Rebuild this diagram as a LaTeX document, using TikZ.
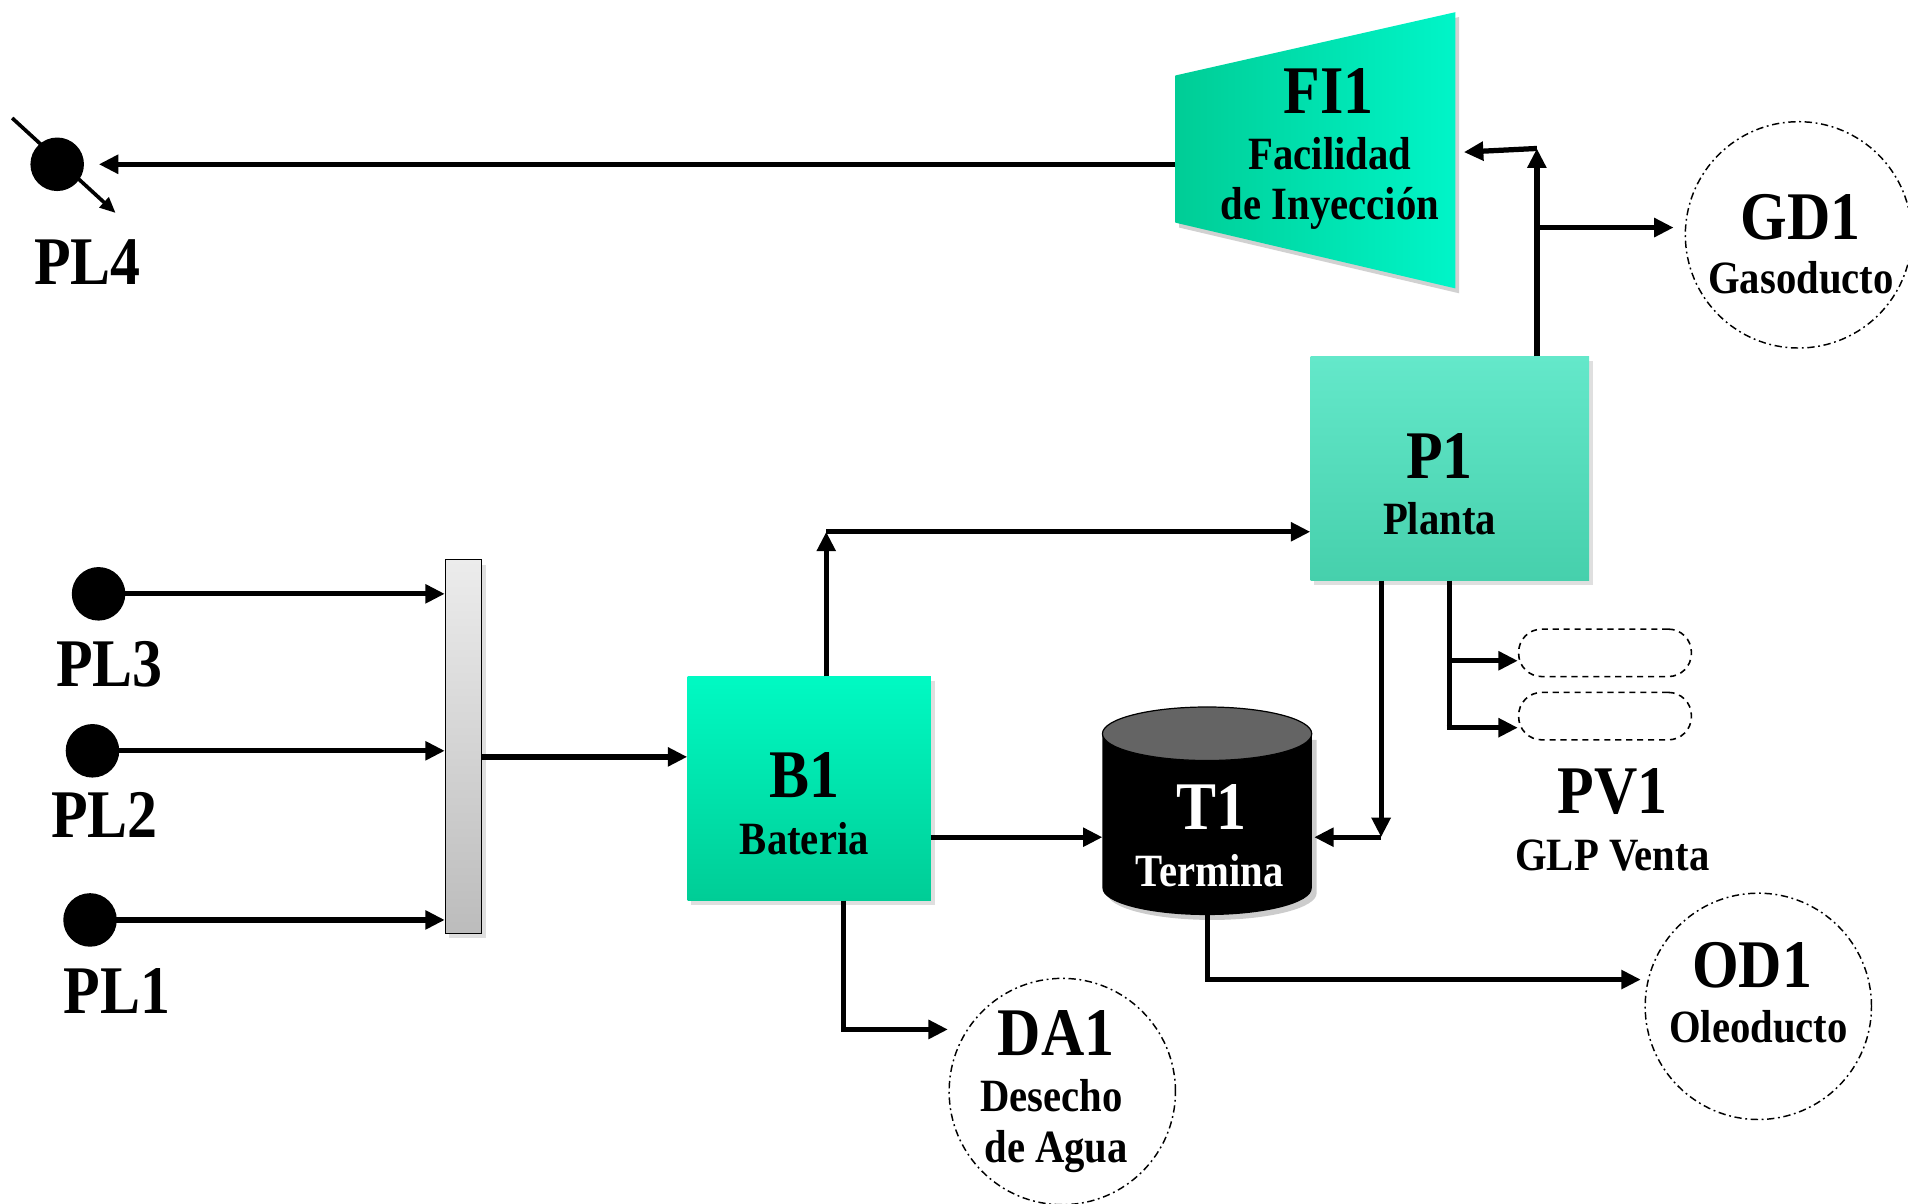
\documentclass[tikz,border=0pt]{standalone}
\usepackage{fontspec}
\setmainfont{Liberation Serif}[FakeStretch=0.88]
\usetikzlibrary{arrows.meta,shadows,calc}
\definecolor{fiL}{RGB}{0,205,150}
\definecolor{fiR}{RGB}{0,245,200}
\definecolor{bT}{RGB}{0,250,195}
\definecolor{bB}{RGB}{0,205,150}
\definecolor{pT}{RGB}{100,232,202}
\definecolor{pB}{RGB}{70,208,172}
\definecolor{barT}{RGB}{236,236,236}
\definecolor{barB}{RGB}{188,188,188}
\definecolor{tankTop}{RGB}{100,100,100}
\tikzset{
  big/.style={font=\fontsize{56}{60}\selectfont\bfseries, inner sep=0pt, text height=37pt, text depth=0pt},
  small/.style={font=\fontsize{38}{42}\selectfont\bfseries, inner sep=0pt, text height=25pt, text depth=0pt},
  conn/.style={line width=4.3pt},
  arr/.style={line width=4.3pt, -{Triangle[length=16pt,width=15pt]}},
  plnode/.style={circle, fill=black, minimum size=44pt, inner sep=0pt},
  sink/.style={circle, draw=black, line width=1.2pt, dash pattern=on 6pt off 3pt on 1.5pt off 3pt, minimum size=186pt, inner sep=0pt},
  pvbox/.style={rectangle, rounded corners=19pt, draw=black, line width=1.3pt, dash pattern=on 5pt off 4pt, minimum width=142pt, minimum height=39pt, inner sep=0pt},
  sh/.style={drop shadow={opacity=0.25, shadow xshift=3pt, shadow yshift=-4pt}},
  procbox/.style={rectangle, inner sep=0pt, sh},
}
\begin{document}
\begin{tikzpicture}[x=1pt,y=-1pt]
\useasboundingbox (0,0) rectangle (1568,989);

% ---------- FI1 trapezoid ----------
\coordinate (fiTL) at (966,62);
\coordinate (fiBL) at (966,183);
\coordinate (fiTR) at (1196,10);
\coordinate (fiBR) at (1196,237);
\coordinate (FIw) at (966,135);
\coordinate (FIe) at (1203,125);
\fill[black,opacity=0.18] ([shift={(3pt,-4pt)}]fiTL) -- ([shift={(3pt,-4pt)}]fiTR) -- ([shift={(3pt,-4pt)}]fiBR) -- ([shift={(3pt,-4pt)}]fiBL) -- cycle;
\shade[left color=fiL, right color=fiR] (fiTL) -- (fiTR) -- (fiBR) -- (fiBL) -- cycle;
\node[big] (FIt) at (1092,75) {FI1};
\node[small] (FIt2) at (1093,127) {Facilidad};
\node[small] (FIt3) at (1093,168) {de Inyección};

% ---------- PL4 ----------
\coordinate (d4a) at (10,97);
\coordinate (d4b) at (95,175);
\draw[line width=3pt, -{Triangle[length=13pt,width=11pt]}] (d4a) -- (d4b);
\node[plnode] (PL4) at (47,135) {};
\node[big] (PL4t) at (72,215) {PL4};
\draw[arr, shorten >=12pt] (FIw) -- (PL4.east);

% ---------- GD1 ----------
\node[sink] (GD1) at (1478,193) {};
\node[big] (GD1t) at (1480,178) {GD1};
\node[small] (GD1t2) at (1480,229) {Gasoducto};

% ---------- P1 ----------
\node[procbox, top color=pT, bottom color=pB, minimum width=229pt, minimum height=184pt] (P1) at (1191.5,385) {};
\node[big] (P1t) at (1183,375) {P1};
\node[small] (P1t2) at (1183,427) {Planta};

\coordinate (up) at (1263,122);
\coordinate (gb) at (1263,187);
\draw[arr] (P1.north -| up) -- (up);
\draw[arr] (up) -- (FIe);
\draw[arr, shorten >=9pt] (gb) -- (gb -| GD1.west);

% ---------- Manifold bar ----------
\node[procbox, draw=black, line width=1pt, top color=barT, bottom color=barB, minimum width=30pt, minimum height=307pt] (bar) at (381,613.5) {};

% ---------- PL1..PL3 ----------
\node[plnode] (PL3) at (81,488) {};
\node[plnode] (PL2) at (76,617) {};
\node[plnode] (PL1) at (74,756) {};
\node[big] (PL3t) at (90,546) {PL3};
\node[big] (PL2t) at (86,670) {PL2};
\node[big] (PL1t) at (96,814) {PL1};
\draw[arr] (PL3.center) -- (PL3 -| bar.west);
\draw[arr] (PL2.center) -- (PL2 -| bar.west);
\draw[arr] (PL1.center) -- (PL1 -| bar.west);

% ---------- B1 ----------
\node[procbox, top color=bT, bottom color=bB, minimum width=200pt, minimum height=184pt] (B1) at (665,648) {};
\node[big] (B1t) at (661,637) {B1};
\node[small] (B1t2) at (661,690) {Bateria};
\coordinate (bo) at (396,622);
\draw[arr] (bo) -- (bo -| B1.west);

\coordinate (bu) at (679,437);
\draw[arr] (B1.north -| bu) -- (bu);
\draw[arr] (bu) -- (bu -| P1.west);

% ---------- T1 tank ----------
\coordinate (T1w) at (906,688);
\coordinate (T1e) at (1080,688);
\coordinate (T1b) at (992,752);
\fill[black,opacity=0.2] (910,608) -- (910,734) arc[start angle=180, end angle=360, x radius=86pt, y radius=22pt] -- (1082,608) -- cycle;
\fill[black] (906,603) -- (906,730) arc[start angle=180, end angle=360, x radius=86pt, y radius=22pt] -- (1078,603) -- cycle;
\filldraw[fill=tankTop, draw=black, line width=1pt] (992,603) ellipse[x radius=86pt, y radius=22pt];
\node[big, text=white] (T1t) at (996,663) {T1};
\node[small, text=white] (T1t2) at (994,716) {Termina};

\coordinate (bt) at (765,688);
\draw[arr] (bt) -- (T1w);

\coordinate (pd) at (1135,688);
\draw[arr] (P1.south -| pd) -- (pd);
\draw[arr] (pd) -- (T1e);

% ---------- PV1 ----------
\node[pvbox] (PVa) at (1319,536.5) {};
\node[pvbox] (PVb) at (1319,588.5) {};
\node[big] (PVt) at (1325,650) {PV1};
\node[small] (PVt2) at (1325,703) {GLP Venta};
\coordinate (pv1) at (1191,543);
\coordinate (pv2) at (1191,598);
\draw[conn] (P1.south -| pv1) -- ([yshift=-2.15pt]pv2);
\draw[arr] (pv1) -- (pv1 -| PVa.west);
\draw[arr] ([xshift=-2.15pt]pv2) -- (pv2 -| PVb.west);

% ---------- OD1 ----------
\node[sink] (OD1) at (1445,827) {};
\node[big] (OD1t) at (1440,793) {OD1};
\node[small] (OD1t2) at (1445,844) {Oleoducto};
\coordinate (tb) at (992,805);
\draw[arr, shorten >=3pt] (T1b) -- (tb) -- (tb -| OD1.west);

% ---------- DA1 ----------
\node[sink] (DA1) at (873,897) {};
\node[big] (DA1t) at (868,849) {DA1};
\node[small] (DA1t2) at (864,901) {Desecho};
\node[small] (DA1t3) at (868,943) {de Agua};
\coordinate (bd) at (693,846);
\coordinate (bdE) at (779,846);
\draw[arr] (B1.south -| bd) -- (bd) -- (bdE);
\end{tikzpicture}
\end{document}
